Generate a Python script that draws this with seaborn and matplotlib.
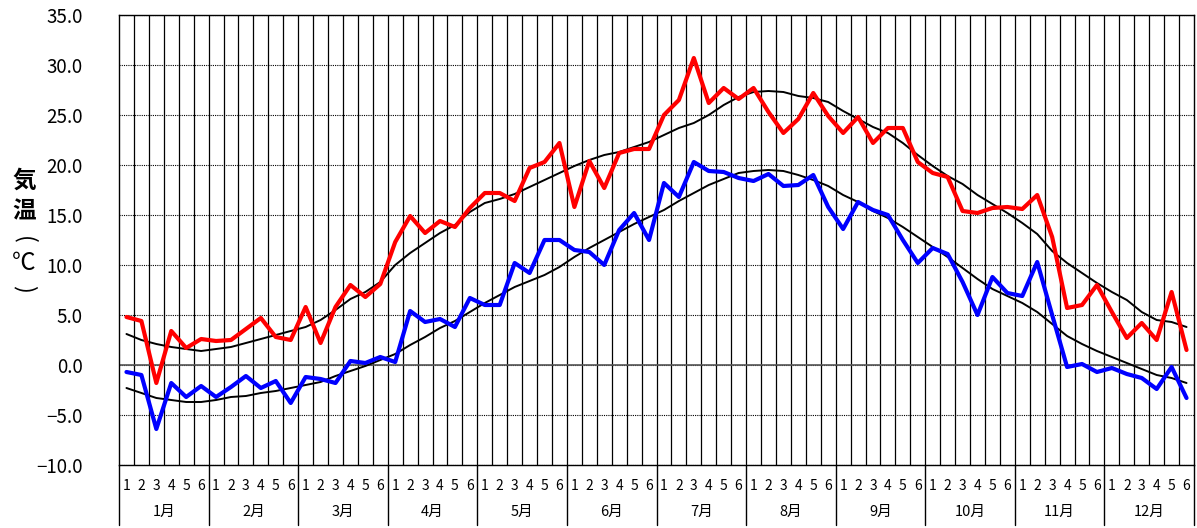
import numpy as np
import pandas as pd
import seaborn as sns
import matplotlib.pyplot as plt
import matplotlib.transforms as mtransforms

sns.set_style("white")
plt.rcParams['font.family'] = ['Noto Sans CJK JP', 'DejaVu Sans']
plt.rcParams.update({'text.color': 'black', 'xtick.color': 'black',
                     'ytick.color': 'black', 'axes.labelcolor': 'black'})

# 半旬 (5-day periods), 6 per month
months = [f"{m}月" for m in range(1, 13)]
period_labels = [str(k) for k in range(1, 7)] * 12

# observed max / min
tmax = [4.8, 4.4, -1.8, 3.4, 1.7, 2.6,
        2.4, 2.5, 3.6, 4.7, 2.8, 2.5,
        5.8, 2.2, 5.8, 8.0, 6.8, 8.1,
        12.3, 14.9, 13.2, 14.4, 13.8, 15.7,
        17.2, 17.2, 16.4, 19.7, 20.3, 22.2,
        15.8, 20.4, 17.7, 21.2, 21.6, 21.6,
        25.0, 26.5, 30.7, 26.2, 27.7, 26.6,
        27.7, 25.3, 23.2, 24.6, 27.2, 24.9,
        23.2, 24.8, 22.2, 23.7, 23.7, 20.3,
        19.2, 18.8, 15.4, 15.2, 15.7, 15.8,
        15.6, 17.0, 12.8, 5.7, 6.0, 8.0,
        5.3, 2.7, 4.2, 2.5, 7.3, 1.5]
tmin = [-0.7, -1.0, -6.4, -1.8, -3.2, -2.1,
        -3.2, -2.2, -1.1, -2.3, -1.6, -3.8,
        -1.2, -1.4, -1.8, 0.4, 0.2, 0.8,
        0.3, 5.4, 4.3, 4.6, 3.8, 6.7,
        6.0, 6.0, 10.2, 9.2, 12.5, 12.5,
        11.5, 11.3, 10.0, 13.5, 15.2, 12.5,
        18.2, 16.8, 20.3, 19.4, 19.3, 18.7,
        18.4, 19.1, 17.9, 18.0, 19.0, 15.8,
        13.6, 16.3, 15.5, 15.0, 12.5, 10.2,
        11.7, 11.1, 8.3, 5.0, 8.8, 7.2,
        6.9, 10.3, 5.0, -0.2, 0.1, -0.7,
        -0.3, -0.9, -1.3, -2.4, -0.2, -3.3]
# normals
nmax = [3.1, 2.5, 2.1, 1.8, 1.6, 1.4,
        1.6, 1.8, 2.2, 2.6, 3.0, 3.4,
        3.8, 4.5, 5.5, 6.6, 7.3, 8.3,
        10.0, 11.2, 12.2, 13.2, 14.0, 15.3,
        16.2, 16.6, 17.1, 17.8, 18.5, 19.2,
        19.9, 20.5, 21.0, 21.3, 21.8, 22.3,
        23.0, 23.7, 24.2, 25.0, 26.0, 26.8,
        27.3, 27.4, 27.3, 26.9, 26.7, 26.3,
        25.4, 24.6, 23.8, 23.2, 22.2, 21.0,
        19.9, 18.9, 18.1, 17.0, 16.1, 15.2,
        14.2, 13.1, 11.4, 10.2, 9.2, 8.2,
        7.3, 6.5, 5.3, 4.5, 4.3, 3.8]
nmin = [-2.3, -2.8, -3.3, -3.5, -3.7, -3.7,
        -3.5, -3.2, -3.1, -2.8, -2.6, -2.3,
        -2.0, -1.7, -1.1, -0.6, -0.1, 0.5,
        1.1, 2.0, 2.8, 3.7, 4.4, 5.3,
        6.2, 7.0, 7.8, 8.4, 9.0, 9.8,
        10.8, 11.7, 12.5, 13.3, 14.1, 14.8,
        15.5, 16.4, 17.2, 18.0, 18.6, 19.2,
        19.4, 19.5, 19.4, 19.0, 18.5, 17.9,
        17.0, 16.3, 15.4, 14.7, 13.8, 12.8,
        11.8, 10.8, 9.7, 8.6, 7.6, 6.9,
        6.2, 5.3, 4.1, 2.9, 2.1, 1.4,
        0.8, 0.2, -0.4, -1.0, -1.3, -1.8]

df = pd.DataFrame({'period': np.arange(72), 'tmax': tmax, 'tmin': tmin,
                   'nmax': nmax, 'nmin': nmin})

fig = plt.figure(figsize=(11.97, 5.28), dpi=100)
ax = fig.add_axes([119 / 1197, 1 - 465 / 528, (1194 - 119) / 1197, 450 / 528])

# grid
ax.set_xticks(np.arange(0.5, 71, 1), minor=True)
ax.grid(which='minor', axis='x', color='black', lw=0.9)
ax.grid(which='major', axis='y', color='black', lw=0.8, ls=(0, (1, 1)))
ax.grid(which='major', axis='x', visible=False)
ax.axhline(0, color='#555555', lw=1.2, zorder=1)

sns.lineplot(data=df, x='period', y='nmax', color='black', lw=1.4, ax=ax, zorder=3)
sns.lineplot(data=df, x='period', y='nmin', color='black', lw=1.4, ax=ax, zorder=3)
sns.lineplot(data=df, x='period', y='tmax', color='#ff0000', lw=3, ax=ax, zorder=4)
sns.lineplot(data=df, x='period', y='tmin', color='#0000ff', lw=3, ax=ax, zorder=4)

ax.set_xlim(-0.5, 71.5)
ax.set_ylim(-10, 35)
ax.set_yticks(np.arange(-10, 36, 5))
ax.set_yticklabels([f"{v:.1f}".replace('-', '\u2212') for v in np.arange(-10, 36, 5)], fontsize=13.5)
ax.set_xticks(np.arange(72))
ax.set_xticklabels(period_labels, fontsize=10)
ax.tick_params(axis='y', length=0, pad=26)
ax.tick_params(axis='x', which='both', length=0, pad=10)
ax.set_xlabel('')
ax.set_ylabel('')
for s in ax.spines.values():
    s.set_color('black')
    s.set_linewidth(1)

# month rows below the axis
trans = mtransforms.blended_transform_factory(ax.transData, ax.transAxes)
for m in range(13):
    ax.plot([m * 6 - 0.5, m * 6 - 0.5], [0, -60 / 450], transform=trans,
            color='black', lw=1, clip_on=False)
for m, name in enumerate(months):
    ax.text(m * 6 + 2.5, -47 / 450, name, transform=trans, ha='center',
            va='center', fontsize=10.5)

# vertical y label (parentheses turned for vertical writing)
for ch, yy, fs, wt, rot in [('気', 181, 17, 'bold', 0), ('温', 211, 17, 'bold', 0),
                            ('(', 240, 17, 'normal', -90), ('℃', 264, 17, 'normal', 0),
                            (')', 289, 17, 'normal', -90)]:
    fig.text(24 / 1197, 1 - yy / 528, ch, ha='center', va='center',
             fontsize=fs, fontweight=wt, rotation=rot)

fig.savefig('out.png', dpi=100)
